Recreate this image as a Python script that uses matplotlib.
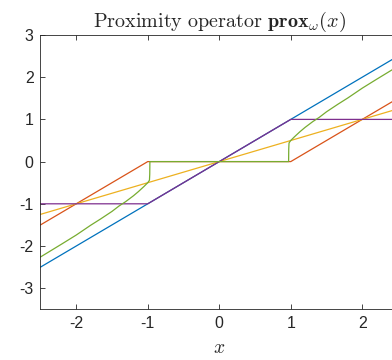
import matplotlib
matplotlib.use('Agg')
import matplotlib.pyplot as plt

# proximity operators

x_id = [-2.5, 2.5]
y_id = [-2.5, 2.5]

x_soft = [-2.5, -1, 1, 2.5]
y_soft = [-1.5, 0, 0, 1.5]

x_half = [-2.5, 2.5]
y_half = [-1.25, 1.25]

x_clip = [-2.5, -1, 1, 2.5]
y_clip = [-1, -1, 1, 1]

x_p = [-2.5, -2.2, -2.0, -1.8, -1.66, -1.5, -1.4, -1.31, -1.2, -1.13, -1.05, -1.0,
       -0.985, -0.976, -0.972, -0.97,
       0.97, 0.972, 0.976, 0.985, 1.0, 1.05, 1.13, 1.2, 1.31, 1.4, 1.5, 1.66,
       1.8, 2.0, 2.2, 2.5]
y_p = [-2.26, -1.95, -1.74, -1.51, -1.36, -1.18, -1.05, -0.95, -0.81, -0.71, -0.585, -0.5,
       -0.465, -0.44, -0.3, 0,
       0, 0.3, 0.44, 0.465, 0.5, 0.585, 0.71, 0.81, 0.95, 1.05, 1.18, 1.36,
       1.51, 1.74, 1.95, 2.26]

plt.rcParams['mathtext.fontset'] = 'cm'
plt.rcParams['font.family'] = ['Liberation Sans', 'DejaVu Sans']
plt.rcParams['axes.unicode_minus'] = False

fig = plt.figure(figsize=(3.92, 3.6), dpi=100)
ax = fig.add_axes([0.1033, 0.1408, 0.912, 0.762])

lw = 0.9
ax.plot(x_id, y_id, color='#0072BD', lw=lw)
ax.plot(x_soft, y_soft, color='#D95319', lw=lw)
ax.plot(x_half, y_half, color='#EDB120', lw=lw)
ax.plot(x_clip, y_clip, color='#7E2F8E', lw=lw)
ax.plot(x_p, y_p, color='#77AC30', lw=lw)

ax.set_xlim(-2.5, 2.5)
ax.set_ylim(-3.5, 3)
ax.set_xticks([-2, -1, 0, 1, 2])
ax.set_yticks([-3, -2, -1, 0, 1, 2, 3])
ax.tick_params(direction='in', length=3.5, width=0.6, colors='#262626',
               labelsize=11.5, top=True, right=True, pad=5)
for s in ax.spines.values():
    s.set_linewidth(0.6)
    s.set_color('#262626')

ax.set_title(r'$\mathrm{Proximity\ operator}\ \mathbf{prox}_{\omega}(x)$',
             fontsize=14.5, pad=6, color='#262626')
ax.set_xlabel(r'$x$', fontsize=14, color='#262626', labelpad=6)

fig.savefig('out.png', dpi=100)
